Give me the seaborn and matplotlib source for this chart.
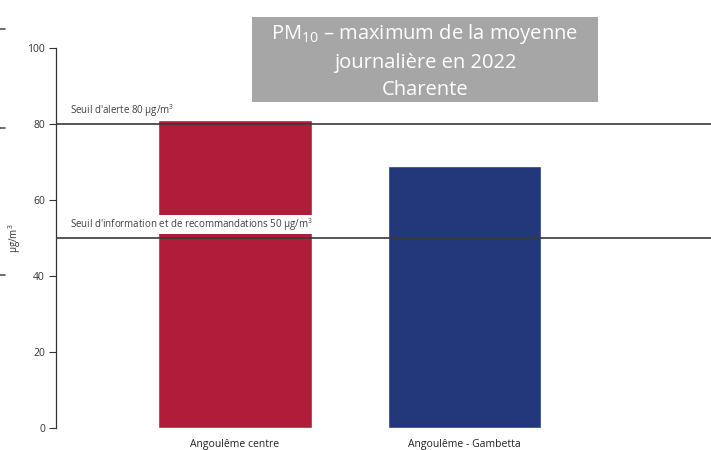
import matplotlib
matplotlib.use("Agg")
import matplotlib.pyplot as plt
import seaborn as sns
import pandas as pd
from matplotlib.lines import Line2D
from matplotlib.patches import Rectangle

stations = ["Angoulême centre", "Angoulême - Gambetta"]
max_daily = [81, 69]
bar_colors = ["#b01c3a", "#22387a"]
thresholds = [80, 50]
threshold_labels = ["Seuil d'alerte 80 µg/m$^3$",
                    "Seuil d'information et de recommandations 50 µg/m$^3$"]
y_ticks = [0, 20, 40, 60, 80, 100]

sns.set_style("white")
plt.rcParams["font.family"] = ["Open Sans", "DejaVu Sans"]
plt.rcParams["mathtext.fontset"] = "custom"
plt.rcParams["mathtext.rm"] = "Open Sans"
plt.rcParams["mathtext.it"] = "Open Sans"
plt.rcParams["mathtext.default"] = "rm"

df = pd.DataFrame({"station": stations, "value": max_daily})

fig = plt.figure(figsize=(7.11, 4.5), dpi=100)
ax = fig.add_axes([56 / 711, 1 - 428 / 450, 655 / 711, 380 / 450])

sns.barplot(data=df, x="station", y="value", hue="station",
            palette=bar_colors, width=0.67, ax=ax, legend=False,
            saturation=1, zorder=1)

for thr, lab in zip(thresholds, threshold_labels):
    ax.axhline(thr, color="#3a3a3a", lw=1.2, zorder=3)
    ax.text(-0.72, thr + 1.3, lab, fontsize=7, color="#404040",
            va="bottom", ha="left", zorder=4,
            bbox=dict(facecolor="white", edgecolor="none", pad=1.0))

ax.set_xlim(-0.78, 2.074)
ax.set_ylim(0, 100)
ax.set_yticks(y_ticks)
ax.set_yticklabels([str(t) for t in y_ticks], fontsize=7.5, color="#333333")
ax.tick_params(axis="y", length=5, width=0.8, color="#333333", pad=3, left=True)
ax.tick_params(axis="x", length=0, labelsize=7.5, labelcolor="#222222", pad=8)
ax.set_xlabel("")
ax.set_ylabel("µg/m$^3$", fontsize=7, color="#333333", labelpad=3)

for side in ["top", "right", "bottom"]:
    ax.spines[side].set_visible(False)
ax.spines["left"].set_color("#333333")
ax.spines["left"].set_linewidth(0.9)

# title box
fig.patches.append(Rectangle((252 / 711, 1 - 102 / 450), 346 / 711, 85 / 450,
                             transform=fig.transFigure, facecolor="#a6a6a6",
                             edgecolor="none", zorder=5))
fig.text(425 / 711, 1 - 61 / 450,
         "PM$_{10}$ – maximum de la moyenne\njournalière en 2022\nCharente",
         ha="center", va="center", color="white", fontsize=14.5,
         linespacing=1.45, zorder=6)

# small marks at the left edge
for yy in [29, 128, 275]:
    fig.lines.append(Line2D([0, 5 / 711], [1 - yy / 450, 1 - yy / 450],
                            transform=fig.transFigure, color="#555555", lw=1.2))

fig.savefig("out.png", dpi=100)
